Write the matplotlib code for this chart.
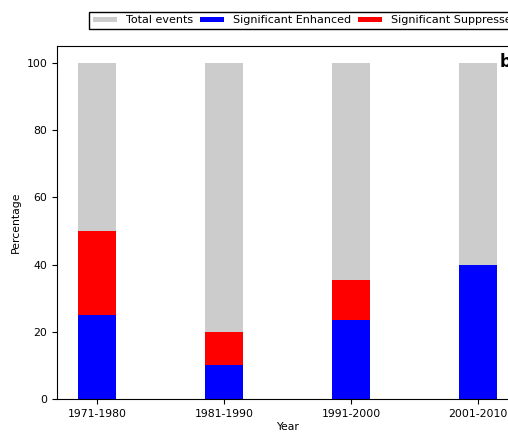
import numpy as np
import matplotlib.pyplot as plt

# decade bins and percentages
years = ["1971-1980", "1981-1990", "1991-2000", "2001-2010"]
total = [100, 100, 100, 100]
enhanced = [25, 10, 23.5, 40]
suppressed = [25, 10, 11.8, 0]

x = np.arange(len(years))
w = 0.3

fig = plt.figure(figsize=(5.08, 4.34), dpi=100)
ax = fig.add_axes([0.112, 0.0806, 0.908, 0.8134])

ax.bar(x, total, w, color="#cccccc", label="Total events")
ax.bar(x, enhanced, w, color="blue", label="Significant Enhanced")
ax.bar(x, suppressed, w, bottom=enhanced, color="red", label="Significant Suppressed")

ax.set_xticks(x)
ax.set_xticklabels(years, fontsize=7.8)
ax.tick_params(axis="y", labelsize=7.8)
ax.set_xlabel("Year", fontsize=7.8, labelpad=2)
ax.set_ylabel("Percentage", fontsize=7.8)

ax.text(0.96, 0.98, "b", transform=ax.transAxes, fontsize=12, fontweight="bold",
        va="top", ha="left")

fig.legend(loc="upper left", bbox_to_anchor=(0.165, 0.985), ncol=3, fontsize=8,
           fancybox=False, edgecolor="black", framealpha=1,
           handlelength=2.2, handleheight=0.4, columnspacing=0.6,
           borderpad=0.3)

fig.savefig("out.png", dpi=100)
